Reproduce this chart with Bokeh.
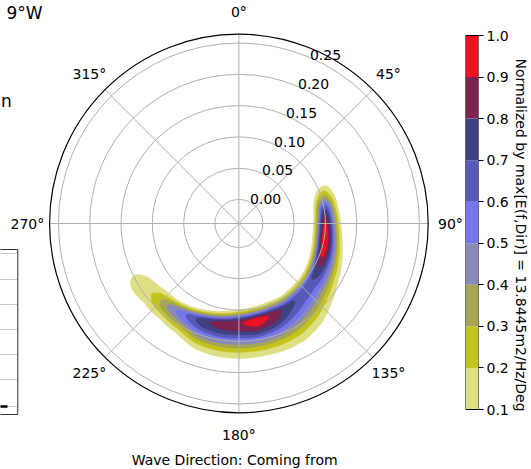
import numpy as np
from bokeh.plotting import figure
from bokeh.layouts import row
from bokeh.models import Range1d, FixedTicker, PrintfTickFormatter
from bokeh.core.properties import value
from bokeh.embed import file_html
from bokeh.resources import INLINE

# ---------------- data ----------------
# ridge of the normalized directional spectrum E(f, Dir)
spec_dir = [66, 72, 80, 90, 100, 110, 120, 130, 140, 150, 160, 170, 180, 190, 200, 210, 220, 230, 240, 246]
spec_fpeak = [0.106, 0.103, 0.100, 0.099, 0.100, 0.103, 0.106, 0.109, 0.112, 0.115, 0.117, 0.119, 0.121,
              0.124, 0.127, 0.130, 0.134, 0.139, 0.145, 0.150]
spec_peak = [0.10, 0.30, 0.70, 0.93, 1.00, 0.93, 0.78, 0.67, 0.67, 0.74, 0.88, 0.96, 0.88, 0.85, 0.77, 0.60,
             0.42, 0.21, 0.13, 0.08]
# spread of the ridge toward lower / higher frequency (Hz)
spec_spread_lo = [0.0096, 0.0096, 0.0088, 0.0088, 0.0088, 0.0088, 0.0088, 0.0088, 0.0096, 0.0096, 0.0104,
                  0.0104, 0.0104, 0.0096, 0.0088, 0.0080, 0.0090, 0.0136, 0.0180, 0.0180]
spec_spread_hi = [0.0112, 0.0112, 0.0112, 0.0120, 0.0136, 0.0160, 0.0192, 0.0240, 0.0288, 0.0304, 0.0288,
                  0.0272, 0.0270, 0.0255, 0.0230, 0.0176, 0.0150, 0.0160, 0.0220, 0.0220]

levels = [0.1, 0.2, 0.3, 0.4, 0.5, 0.6, 0.7, 0.8, 0.9, 1.0]
level_colors = ["#dede82", "#c3c31e", "#a5a555", "#8a8ab9", "#7676eb", "#5858b9", "#414182", "#7d2350",
                "#ee1122"]

r_ticks = [0.00, 0.05, 0.10, 0.15, 0.20, 0.25]
r_tick_labels = ["0.00", "0.05", "0.10", "0.15", "0.20", "0.25"]
theta_ticks = [0, 45, 90, 135, 180, 225, 270, 315]
theta_tick_labels = ["0°", "45°", "90°", "135°", "180°", "225°", "270°", "315°"]
x_label = "Wave Direction: Coming from"
cbar_label = "Normalized by max[E(f,Dir)] = 13.8445m2/Hz/Deg"
partial_title = "9°W"
partial_text = "n"

R_ORIGIN = -0.0383   # radial value at the pole
R_MAX = 0.2641       # radial value at the outer circle
PX = 626.0           # screen pixels per radial unit
FONT = value("DejaVu Sans")


def polar_xy(theta_deg, r):
    rho = np.asarray(r, dtype=float) - R_ORIGIN
    t = np.deg2rad(np.asarray(theta_deg, dtype=float))
    return rho * np.sin(t), rho * np.cos(t)


# ---------------- polar panel ----------------
W, H = 531, 469
WA = 463
CX, CY = 238.4, 223.0  # pole position inside the panel (px)
pa = figure(width=WA, height=H, output_backend="svg", toolbar_location=None,
            x_range=Range1d(-CX / PX, (WA - CX) / PX), y_range=Range1d(-(H - CY) / PX, CY / PX),
            x_axis_location=None, y_axis_location=None, min_border=0,
            min_border_left=0, min_border_right=0, min_border_top=0, min_border_bottom=0)
pa.grid.visible = False
pa.outline_line_color = None
pa.background_fill_color = "white"
pa.border_fill_color = "white"

# filled contour bands
th = np.arange(spec_dir[0], spec_dir[-1] + 1e-9, 0.25)
P = np.interp(th, spec_dir, spec_peak)
FP = np.interp(th, spec_dir, spec_fpeak)
SL = np.interp(th, spec_dir, spec_spread_lo)
SH = np.interp(th, spec_dir, spec_spread_hi)
xs, ys, cs = [], [], []
for i, L in enumerate(levels[:-1]):
    idx = np.where(P >= L)[0]
    if len(idx) == 0:
        continue
    runs = np.split(idx, np.where(np.diff(idx) > 1)[0] + 1)
    for run in runs:
        h = np.sqrt(2.0 * np.log(np.maximum(P[run] / L, 1.0)))
        lo = FP[run] - SL[run] * h
        hi = FP[run] + SH[run] * h
        x1, y1 = polar_xy(th[run], lo)
        x2, y2 = polar_xy(th[run][::-1], hi[::-1])
        xs.append(np.concatenate([x1, x2]).tolist())
        ys.append(np.concatenate([y1, y2]).tolist())
        cs.append(level_colors[i])
pa.patches(xs, ys, fill_color=cs, line_color=cs, line_width=0.5)

# grid
for r in r_ticks:
    pa.circle(x=0, y=0, radius=r - R_ORIGIN, fill_color=None, line_color="#b0b0b0", line_width=1)
tx, ty = polar_xy(theta_ticks, [R_MAX] * len(theta_ticks))
pa.segment(x0=[0] * len(tx), y0=[0] * len(ty), x1=tx, y1=ty, line_color="#b0b0b0", line_width=1)
pa.circle(x=0, y=0, radius=R_MAX - R_ORIGIN, fill_color=None, line_color="black", line_width=1.2)

# angular tick labels
lx, ly = polar_xy(theta_ticks, [R_ORIGIN + 211.5 / PX] * len(theta_ticks))
pa.text(x=lx, y=ly, text=theta_tick_labels, text_align="center", text_baseline="middle",
        text_font=FONT, text_font_size="14px", text_color="black")
# radial tick labels
rx, ry = polar_xy([22.5] * len(r_ticks), r_ticks)
pa.text(x=rx, y=ry, text=r_tick_labels, text_align="left", text_baseline="alphabetic",
        x_offset=2, y_offset=-2, text_font=FONT, text_font_size="14px", text_color="black")


def scr(fx, fy):
    return (fx - CX) / PX, (CY - fy) / PX


# x label
pa.text(x=[scr(234.2, 0)[0]], y=[scr(0, 459)[1]], text=[x_label], text_align="center",
        text_baseline="middle", text_font=FONT, text_font_size="14px", text_color="black")

# pieces of the neighbouring panels that are visible at the left edge
pa.text(x=[scr(42, 0)[0]], y=[scr(0, 12)[1]], text=[partial_title], text_align="right",
        text_baseline="alphabetic", text_font=FONT, text_font_size="17px", text_color="black")
pa.text(x=[scr(0.5, 0)[0]], y=[scr(0, 100)[1]], text=[partial_text], text_align="left",
        text_baseline="alphabetic", text_font=FONT, text_font_size="17px", text_color="black")
gl = [253, 279, 304, 329, 354, 379, 406]
pa.segment(x0=[scr(-5, 0)[0]] * len(gl), y0=[scr(0, g)[1] for g in gl],
           x1=[scr(17, 0)[0]] * len(gl), y1=[scr(0, g)[1] for g in gl], line_color="#c8c8c8", line_width=1)
pa.segment(x0=[scr(-5, 0)[0]], y0=[scr(0, 406)[1]], x1=[scr(7, 0)[0]], y1=[scr(0, 406)[1]],
           line_color="black", line_width=2.5)
pa.quad(left=[scr(-5, 0)[0]], right=[scr(17.3, 0)[0]], top=[scr(0, 249)[1]], bottom=[scr(0, 414)[1]],
        fill_color=None, line_color="#333333", line_width=1)

# ---------------- colour bar panel ----------------
WB = W - WA
CB_TOP, CB_BOT = 35.0, 409.0
k = (levels[-1] - levels[0]) / (CB_BOT - CB_TOP)
pb = figure(width=WB, height=H, output_backend="svg", toolbar_location=None,
            x_range=Range1d(0, 1),
            y_range=Range1d(levels[0] - (H - CB_BOT) * k, levels[-1] + CB_TOP * k),
            x_axis_location=None, y_axis_location="right",
            min_border_left=2, min_border_right=WB - 20, min_border_top=0, min_border_bottom=0)
pb.grid.visible = False
pb.outline_line_color = None
pb.quad(left=0, right=1, bottom=levels[:-1], top=levels[1:], fill_color=level_colors, line_color=None)
pb.quad(left=[0], right=[1], bottom=[levels[0]], top=[levels[-1]], fill_color=None,
        line_color="black", line_width=1)
ax = pb.yaxis[0]
ax.ticker = FixedTicker(ticks=levels)
ax.formatter = PrintfTickFormatter(format="%.1f")
ax.major_label_text_font = "DejaVu Sans"
ax.major_label_text_font_size = "14px"
ax.major_label_text_color = "black"
ax.major_tick_out = 5
ax.major_tick_in = 0
ax.minor_tick_out = 0
ax.minor_tick_in = 0
ax.major_tick_line_color = "black"
ax.axis_line_color = None
ax.major_label_standoff = 3
ax.axis_label = cbar_label
ax.axis_label_text_font = "DejaVu Sans"
ax.axis_label_text_font_size = "14px"
ax.axis_label_text_font_style = "normal"
ax.axis_label_text_color = "black"
ax.axis_label_standoff = 1

layout = row(pa, pb)
open("out.html", "w").write(file_html(layout, INLINE))
